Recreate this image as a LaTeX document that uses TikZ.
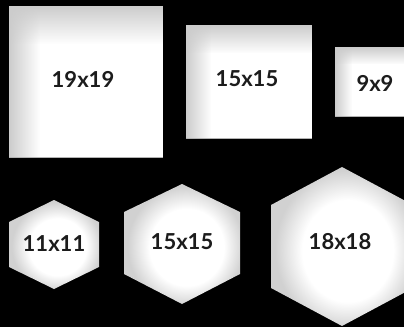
\documentclass[tikz,border=0pt]{standalone}
\usepackage{fontspec}
\setmainfont{Lato}
\usetikzlibrary{fadings}
\tikzfading[name=fadedown, top color=transparent!0, bottom color=transparent!100]
\tikzfading[name=fadeleft, left color=transparent!0, right color=transparent!100]
\pgfdeclareradialshading{hexsh}{\pgfpoint{3bp}{-2bp}}{color(0bp)=(white); color(16bp)=(white); color(25bp)=(black!18); color(50bp)=(black!18)}
\definecolor{ink}{HTML}{1C1C1C}
\tikzset{
  lbl/.style={font=\bfseries\fontsize{22}{26}\selectfont, text=ink, inner sep=0pt},
  edgegray/.style={fill=black!20},
}
\newcommand\mysq[4]{%
  \fill[white] (#1,#2) rectangle (#3,#4);
  \fill[edgegray, path fading=fadedown] (#1,{#4-0.25*(#4-#2)}) rectangle (#3,#4);
  \fill[edgegray, path fading=fadeleft] (#1,#2) rectangle ({#1+0.2*(#3-#1)},#4);
  \draw[black!30, line width=0.6pt] (#1,#2+0.3) -- (#3,#2+0.3);
}
\begin{document}
\begin{tikzpicture}[x=1pt,y=1pt]
\fill[black] (0,0) rectangle (404,327);
\useasboundingbox (0,0) rectangle (404,327);
\clip (0,0) rectangle (404,327);
% squares
\mysq{9}{169}{163}{321}
\mysq{186}{188}{312}{302}
\mysq{335}{210}{420}{280}
% hexagons
\shade[shading=hexsh] (54,127) -- (99,105) -- (99,60) -- (54,38) -- (9,60) -- (9,105) -- cycle;
\shade[shading=hexsh] (182,143) -- (240,115) -- (240,53) -- (182,23) -- (124,53) -- (124,115) -- cycle;
\shade[shading=hexsh] (342,160) -- (413,122) -- (413,39) -- (342,1) -- (271,39) -- (271,122) -- cycle;
% labels
\node[lbl] (s19) at (83,248) {19x19};
\node[lbl] (s15) at (247,248) {15x15};
\node[lbl] (s9) at (375,244) {9x9};
\node[lbl] (h11) at (54,83) {11x11};
\node[lbl] (h15) at (182,85) {15x15};
\node[lbl] (h18) at (340,85) {18x18};
\end{tikzpicture}
\end{document}
